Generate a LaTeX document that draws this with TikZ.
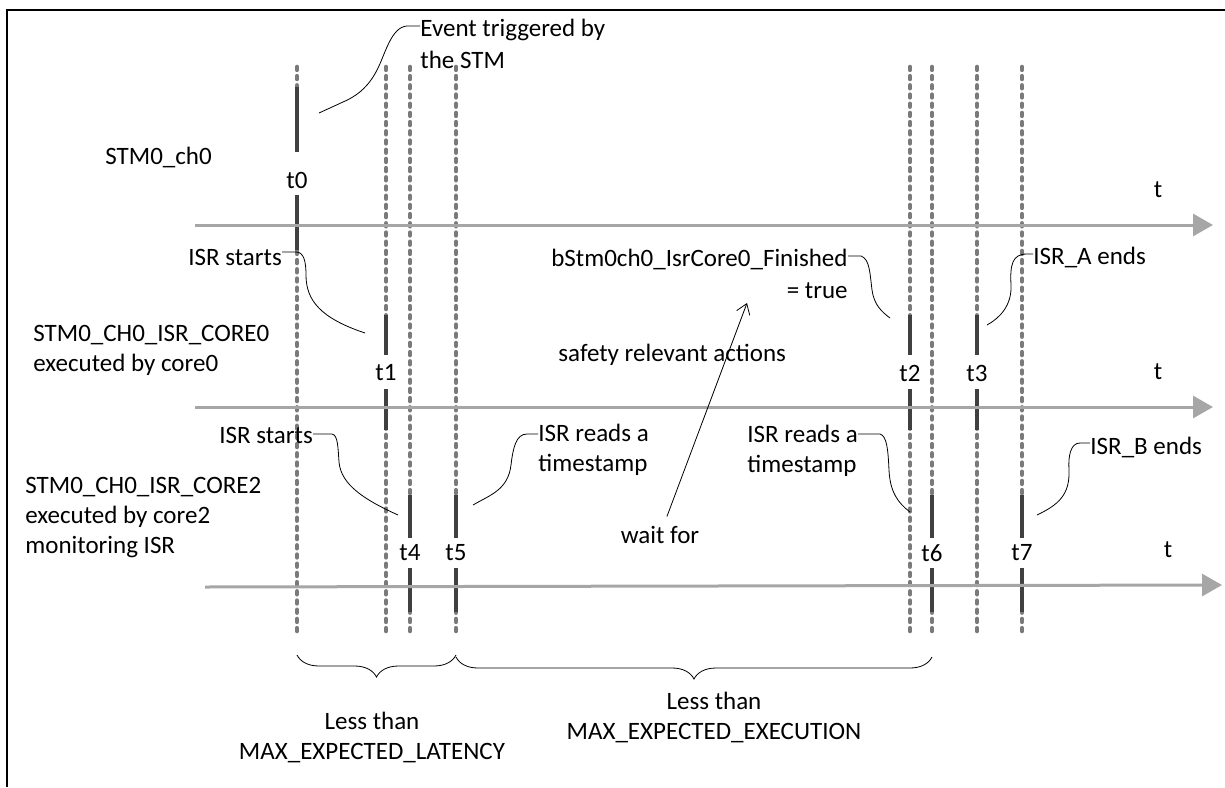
\documentclass[tikz,border=0pt]{standalone}
\usepackage{fontspec}
\setmainfont{Carlito}
\usetikzlibrary{arrows.meta,decorations.pathreplacing}

\definecolor{axisgray}{HTML}{A6A6A6}
\definecolor{dotgray}{HTML}{7A7A7A}
\definecolor{busygray}{HTML}{404040}

\begin{document}
\begin{tikzpicture}[x=0.5pt, y=-0.5pt,
  every node/.style={font=\fontsize{12.5}{15}\selectfont, inner sep=0pt},
  lbl/.style={align=left},
  wide/.style={font=\fontsize{12.5}{16}\selectfont},
  axis/.style={draw=axisgray, line width=1.5pt, -{Triangle[length=10pt,width=11pt]}},
  dots/.style={draw=dotgray, line width=2.3pt, line cap=round, dash pattern=on 1.4pt off 3.2pt},
  busy/.style={draw=busygray, line width=2.2pt},
  lead/.style={draw, line width=0.4pt},
  arr/.style={draw, line width=0.4pt, -{Straight Barb[length=5pt,width=7pt]}},
  brc/.style={draw, line width=0.4pt, decorate, decoration={brace, mirror, amplitude=11pt}}
]
\useasboundingbox (0,0) rectangle (1225,787);
\draw[line width=1.2pt] (7,787) -- (7,10) -- (1225,10);

\foreach \x in {297,386,410,456,910,932,977,1022}
  \draw[dots] (\x,67) -- (\x,637);

\foreach \n/\x/\y/\a/\b/\c/\d in {0/297/180/87/152/195/250, 1/386/373/315/355/389/430,
    2/910/373/315/355/389/430, 3/977/373/315/355/389/430, 4/410/553/495/538/568/612,
    5/456/553/495/538/568/612, 6/932/553/495/538/568/612, 7/1022/553/495/538/568/612}{
  \fill[white] ({\x-5},\b) rectangle ({\x+5},\c);
  \node (t\n) at (\x,\y) {t\n};
  \draw[busy] (\x,\a) -- (\x,\b) (\x,\c) -- (\x,\d);
}

\draw[axis] (195,225) -- (1213,225);
\draw[axis] (195,407) -- (1213,407);
\draw[axis] (205,587) -- (1222,585);
\node (tA) at (1158,190) {t};
\node (tB) at (1158,372) {t};
\node (tC) at (1168,550) {t};

\node[anchor=west] (stm) at (105,157) {STM0\_ch0};
\node[lbl, anchor=west] (cpu0) at (33,350) {STM0\_CH0\_ISR\_CORE0\\executed by core0};
\node[lbl, anchor=west] (cpu2) at (25,518) {STM0\_CH0\_ISR\_CORE2\\executed by core2\\monitoring ISR};

\node[lbl, wide, anchor=west] (evt) at (420,44) {Event triggered by\\the STM};
\node[anchor=west] (startA) at (188,257) {ISR starts};
\node[anchor=west] (startB) at (219,435) {ISR starts};
\node[lbl, anchor=west] (readA) at (538,450) {ISR reads a\\timestamp};
\node[lbl, anchor=west] (readB) at (747,451) {ISR reads a\\timestamp};
\node[wide, align=right, anchor=east] (flag) at (848,274) {bStm0ch0\_IsrCore0\_Finished\\= true};
\node[anchor=west] (safety) at (558,355) {safety relevant actions};
\node[anchor=west] (endA) at (1033,257) {ISR\_A ends};
\node[anchor=west] (endB) at (1090,447) {ISR\_B ends};
\node (waitfor) at (660,535) {wait for};
\node[align=center] (lat) at (372,737) {Less than\\MAX\_EXPECTED\_LATENCY};
\node[align=center] (exe) at (714,717) {Less than\\MAX\_EXPECTED\_EXECUTION};

\coordinate (evtEnd) at (319,113);
\coordinate (startAEnd) at (365,333);
\coordinate (startBEnd) at (398,515);
\coordinate (readAEnd) at (473,505);
\coordinate (flagEnd) at (890,318);
\coordinate (endAEnd) at (987,325);
\coordinate (readBEnd) at (910,512);
\coordinate (endBEnd) at (1037,515);
\coordinate (waitTip) at (747,303);

\draw[lead] (evt.west |- 0,26) -- (407,26) .. controls (391,27) and (385,55) .. (377,70)
  .. controls (368,88) and (355,97) .. (343,102) -- (evtEnd);
\draw[lead] (startA.east |- 0,252) -- (296,252) .. controls (304,252) and (306,262) .. (306,275)
  .. controls (306,300) and (320,318) .. (startAEnd);
\draw[lead] (startB.east |- 0,434) -- (332,434) .. controls (338,435) and (338,448) .. (339,462)
  .. controls (341,485) and (365,500) .. (startBEnd);
\draw[lead] (readA.west |- 0,434) -- (527,434) .. controls (516,434) and (513,448) .. (511,465)
  .. controls (508,490) and (490,495) .. (readAEnd);
\draw[lead] (flag.east |- 0,256) -- (861,256) .. controls (870,259) and (870,275) .. (872,290)
  .. controls (874,305) and (882,312) .. (flagEnd);
\draw[lead] (endA.west |- 0,254) -- (1027,254) .. controls (1012,254) and (1010,265) .. (1011,285)
  .. controls (1012,305) and (1000,318) .. (endAEnd);
\draw[lead] (readB.east |- 0,434) -- (880,434) .. controls (887,436) and (888,450) .. (889,470)
  .. controls (890,492) and (898,503) .. (readBEnd);
\draw[lead] (endB.west |- 0,443) -- (1080,443) .. controls (1071,443) and (1068,455) .. (1069,470)
  .. controls (1070,495) and (1058,505) .. (endBEnd);

\draw[arr, shorten <=5pt] (waitfor) -- (waitTip);

\draw[brc] (t0 |- 0,655) -- (t5 |- 0,655);
\draw[brc] (t5 |- 0,657) -- (t6 |- 0,657);
\end{tikzpicture}
\end{document}
